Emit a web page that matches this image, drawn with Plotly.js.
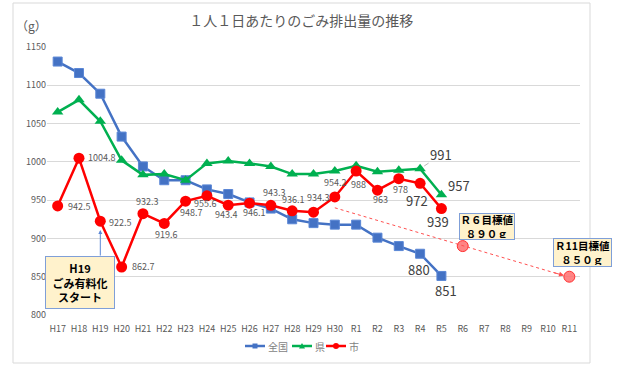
<!DOCTYPE html>
<html><head><meta charset="utf-8">
<script src="https://cdn.plot.ly/plotly-3.0.1.min.js"></script>
<style>html,body{margin:0;padding:0;background:#fff;}#chart{width:621px;height:371px;}</style>
</head><body><div id="chart"></div>
<script>
const categories = ['H17','H18','H19','H20','H21','H22','H23','H24','H25','H26','H27','H28','H29','H30','R1','R2','R3','R4','R5','R6','R7','R8','R9','R10','R11'];
const zenkoku = [1131,1116,1089,1033,994,976,976,964,958,947,939,925,920,918,918,901,890,880,851];
const ken = [1065,1081,1053,1002,983,984,976,998,1001,998,994,984,984,988,995,987,989,991,957];
const shi = [942.5,1004.8,922.5,862.7,932.3,919.6,948.7,955.6,943.4,946.1,943.3,936.1,934.3,954.2,988,963,978,972,939];
const targetCats = ['R6','R11'];
const targetVals = [890,850];
const seriesNames = ['全国','県','市'];

const FONT = '"Noto Sans CJK JP", "Noto Sans", sans-serif';
const GREY = '#595959';
const COLORS = ['#4472C4','#00B050','#FF0000'];
const idx = c => categories.indexOf(c);
const cats = n => categories.slice(0, n);
// pixel -> paper helpers (plot area: x 47..580, y 47..315)
const PX = p => (p-47)/533;
const PY = p => (315-p)/268;

const traces = [
  {x: cats(zenkoku.length), y: zenkoku, name: seriesNames[0], type:'scatter', mode:'lines+markers',
   line:{color:COLORS[0], width:2.5}, marker:{symbol:'square', size:9, color:COLORS[0], line:{color:'#5B87D6', width:1}}},
  {x: cats(ken.length), y: ken, name: seriesNames[1], type:'scatter', mode:'lines+markers',
   line:{color:COLORS[1], width:2.5}, marker:{symbol:'triangle-up', size:10, color:COLORS[1]}},
  {x: cats(shi.length), y: shi, name: seriesNames[2], type:'scatter', mode:'lines+markers',
   line:{color:COLORS[2], width:2.5}, marker:{symbol:'circle', size:11, color:COLORS[2]}},
  {x: targetCats, y: targetVals, type:'scatter', mode:'markers', showlegend:false,
   marker:{symbol:'circle', size:11, color:'rgba(255,110,110,0.85)', line:{color:'#FF3030', width:1}}}
];

// label offsets (px) for 市 labels
const shiOff = [[21,-1],[23,1],[20,-1],[21,0],[4,12],[2,-11],[5,-11],[-2,-8],[-2,-9],[4,-9],[3,13],[1,11],[4,15],[0,14],[2,-13],[3,-9],[2,-11],[-3,-17],[-3,-13]];
const annotations = [];
shi.forEach((v,i) => {
  const big = i >= 17;
  annotations.push({x: idx(categories[i]), y: v, xref:'x', yref:'y', text: String(v), showarrow:false,
    xshift: shiOff[i][0], yshift: shiOff[i][1],
    font:{family:FONT, size: big ? 13 : 9, color: big ? '#404040' : GREY}});
});
// 全国 labels (last two)
[[17,-1,-16],[18,5,-15]].forEach(([i,dx,dy]) => {
  annotations.push({x: i, y: zenkoku[i], xref:'x', yref:'y', text: String(zenkoku[i]), showarrow:false,
    xshift:dx, yshift:dy, font:{family:FONT, size:13, color:'#404040'}});
});
// 県 labels
annotations.push({x: 17, y: ken[17], xref:'x', yref:'y', text: String(ken[17]), showarrow:true,
  ax: 21, ay: -14, arrowhead:0, arrowwidth:0.8, arrowcolor:'#A6A6A6', standoff:5,
  font:{family:FONT, size:13, color:'#404040'}});
annotations.push({x: 18, y: ken[18], xref:'x', yref:'y', text: String(ken[18]), showarrow:false,
  xshift:18, yshift:9, font:{family:FONT, size:13, color:'#404040'}});

// unit label
annotations.push({xref:'paper', yref:'paper', x:PX(31), y:PY(25), xanchor:'center', yanchor:'middle',
  text:'（g）', showarrow:false, font:{family:FONT, size:12, color:GREY}});

// H19 note box + arrow
const BOXBORDER = '#7F9FD8';
const BOXFILL = '#FFF2CC';
annotations.push({x: 1.07, y: 841.8, xref:'x', yref:'y', text:'<b>H19<br>ごみ有料化<br>スタート</b>', showarrow:false,
  width:64, height:47, borderpad:2, bgcolor:BOXFILL, bordercolor:BOXBORDER, borderwidth:1,
  font:{family:FONT, size:11, color:'#000'}});
annotations.push({x: idx('H19'), y: 911, ax: idx('H19'), ay: 875.7, xref:'x', yref:'y', axref:'x', ayref:'y',
  text:'', showarrow:true, arrowhead:2, arrowsize:0.8, arrowwidth:1, arrowcolor:'#5B87D6'});

// target boxes
annotations.push({x: 20.14, y: 916.2, xref:'x', yref:'y', text:'<b>Ｒ６目標値<br>８９０ｇ</b>', showarrow:false,
  width:52, height:23, borderpad:1, bgcolor:BOXFILL, bordercolor:BOXBORDER, borderwidth:1,
  font:{family:FONT, size:10.5, color:'#000'}});
annotations.push({xref:'paper', yref:'paper', x: PX(582.5), y: PY(252), xanchor:'center', yanchor:'middle',
  text:'<b>Ｒ11目標値<br>８５０ｇ</b>', showarrow:false,
  width:55, height:25, borderpad:1, bgcolor:BOXFILL, bordercolor:BOXBORDER, borderwidth:1,
  font:{family:FONT, size:10.5, color:'#000'}});
// dotted trend arrowhead
annotations.push({x: 23.75, y: 851.5, ax: 23.2, ay: 856, xref:'x', yref:'y', axref:'x', ayref:'y',
  text:'', showarrow:true, arrowhead:2, arrowsize:1, arrowwidth:1, arrowcolor:'#FF5050'});

const shapes = [
  {type:'rect', xref:'paper', yref:'paper', x0:PX(13), x1:PX(590), y0:PY(363), y1:PY(3),
   line:{color:'#D9D9D9', width:1}, layer:'below'},
  {type:'line', xref:'x', yref:'y', x0: idx('H30'), y0: 940, x1: 23.7, y1: 851.8,
   line:{color:'#FF5050', width:1, dash:'dot'}}
];

// compact legend (line + small marker + name)
const legendX = [245, 292, 326];
const LY = 346;
legendX.forEach((lx, i) => {
  shapes.push({type:'line', xref:'paper', yref:'paper', x0:PX(lx), x1:PX(lx+20), y0:PY(LY), y1:PY(LY),
    line:{color:COLORS[i], width:2.5}});
  const cx = lx + 10;
  if (i === 0) shapes.push({type:'rect', xref:'paper', yref:'paper', x0:PX(cx-2.5), x1:PX(cx+2.5), y0:PY(LY+2.5), y1:PY(LY-2.5),
    fillcolor:COLORS[i], line:{width:0}});
  if (i === 1) shapes.push({type:'path', xref:'paper', yref:'paper',
    path:`M ${PX(cx-3)} ${PY(LY+2.5)} L ${PX(cx+3)} ${PY(LY+2.5)} L ${PX(cx)} ${PY(LY-3)} Z`,
    fillcolor:COLORS[i], line:{width:0}});
  if (i === 2) shapes.push({type:'circle', xref:'paper', yref:'paper', x0:PX(cx-3), x1:PX(cx+3), y0:PY(LY+3), y1:PY(LY-3),
    fillcolor:COLORS[i], line:{width:0}});
  annotations.push({xref:'paper', yref:'paper', x:PX(lx+21), y:PY(LY), xanchor:'left', yanchor:'middle',
    text: seriesNames[i], showarrow:false, font:{family:FONT, size:10, color:'#7F7F7F'}});
});

const layout = {
  width:621, height:371,
  margin:{l:47, r:41, t:47, b:56},
  paper_bgcolor:'#fff', plot_bgcolor:'#fff',
  title:{text:'１人１日あたりのごみ排出量の推移', x:0.485, xanchor:'center', y:1-21/371, yanchor:'middle',
    font:{family:FONT, size:14, color:GREY}},
  xaxis:{type:'category', categoryorder:'array', categoryarray:categories, range:[-0.5, categories.length-0.5],
    showgrid:false, zeroline:false, showline:false, ticks:'', ticklabelstandoff:7,
    tickfont:{family:FONT, size:9, color:GREY}, fixedrange:true},
  yaxis:{range:[800,1150], dtick:50, tick0:800, showgrid:true, gridcolor:'#D9D9D9', gridwidth:1,
    zeroline:false, showline:false, ticks:'', tickfont:{family:FONT, size:9, color:GREY}, fixedrange:true},
  showlegend:false,
  annotations: annotations,
  shapes: shapes
};

Plotly.newPlot('chart', traces, layout, {staticPlot:true, displayModeBar:false});
</script></body></html>
